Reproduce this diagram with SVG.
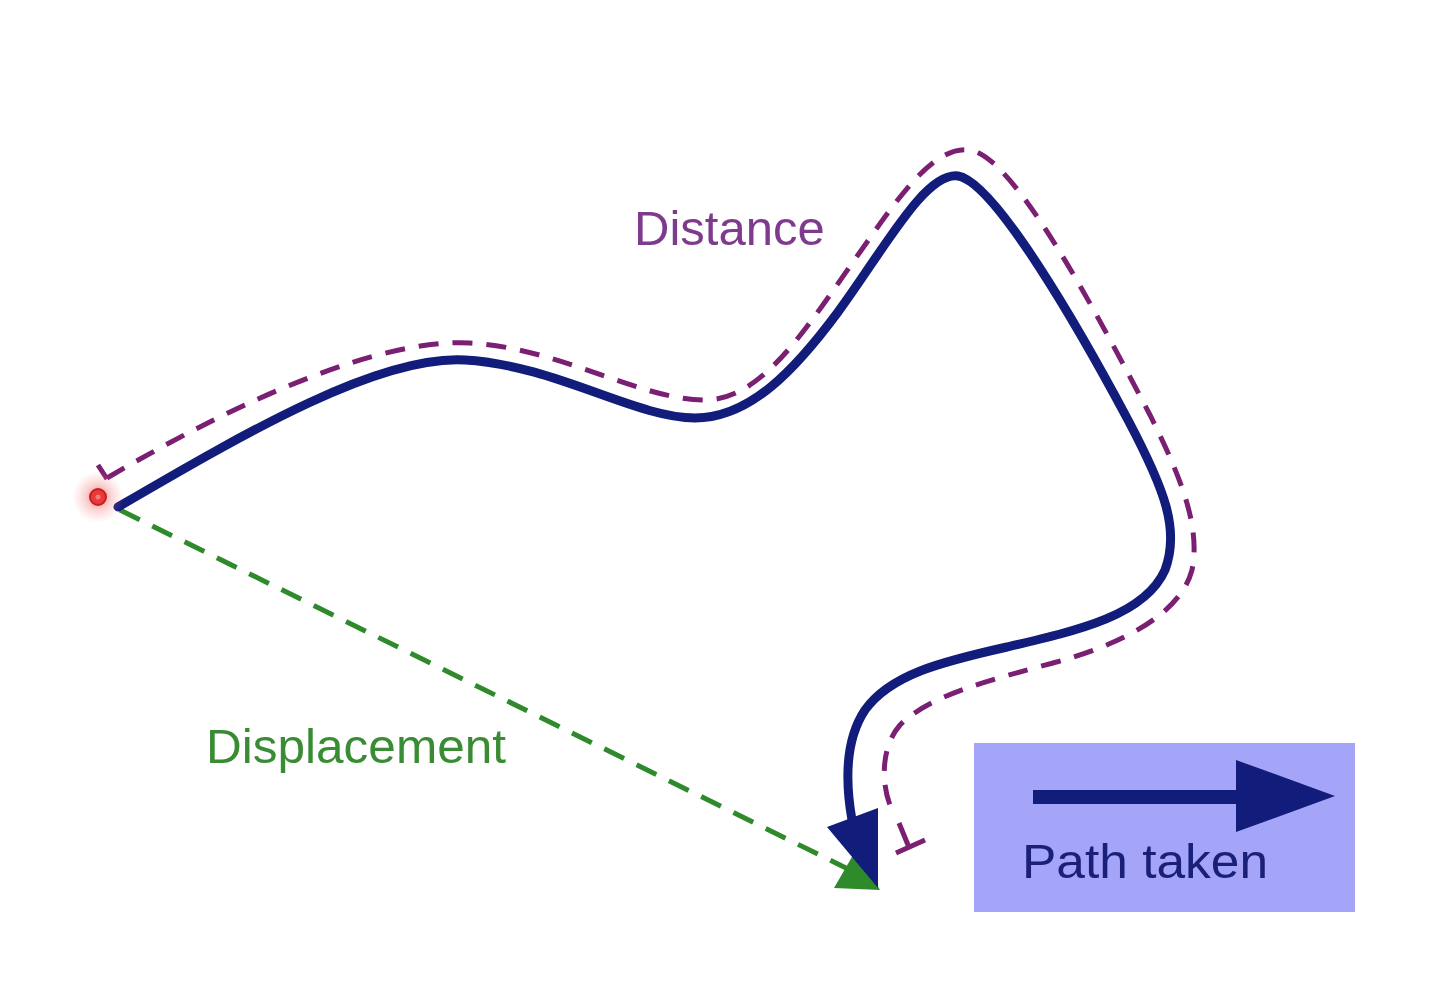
<svg xmlns="http://www.w3.org/2000/svg" width="1440" height="989" viewBox="0 0 1440 989">
<defs>
<style>
.path{fill:none;stroke:#121c7a;stroke-width:9;stroke-linecap:round;stroke-linejoin:round}
.dist{fill:none;stroke:#7a1f72;stroke-width:5;stroke-dasharray:20 14}
.tick{fill:none;stroke:#7a1f72;stroke-width:5}
.disp{fill:none;stroke:#2f8a2c;stroke-width:5;stroke-dasharray:22 14}
.lbl{font-family:"Liberation Sans",Arial,sans-serif;font-size:49px}
</style>
<radialGradient id="glow" cx="0.5" cy="0.5" r="0.5">
<stop offset="0" stop-color="#f04848" stop-opacity="0.7"/>
<stop offset="0.5" stop-color="#f46a6a" stop-opacity="0.3"/>
<stop offset="1" stop-color="#f88" stop-opacity="0"/>
</radialGradient>
</defs>
<rect width="1440" height="989" fill="#ffffff"/>
<g id="connectors">
<path id="displacement-line" class="disp" d="M120,510 L850,870"/>
<polygon id="displacement-head" points="834,888 880,890 856,850" fill="#2f8a2c"/>
<path id="distance-line" class="dist" d="M107,478 C240,400 380,338 470,343 C560,348 640,400 705,400 C765,400 810,322 865,245 C900,195 935,145 970,150 C1015,156 1100,320 1150,415 C1185,485 1200,530 1192,570 C1180,615 1120,645 1053,663 C990,680 930,695 900,725 C880,748 882,785 890,805"/>
<path class="tick" d="M98,465 L107,479"/>
<path class="tick" d="M899,823 L908,845 M896,853 L925,840"/>
<path id="path-taken" class="path" d="M118,507 C250,430 380,355 465,360 C555,365 635,418 695,418 C750,418 795,370 838,312 C885,248 925,172 958,176 C995,182 1080,330 1128,420 C1165,490 1180,530 1165,570 C1145,615 1080,630 1007,647 C940,662 890,675 865,710 C845,740 845,780 852,820"/>
<polygon id="path-head" points="827,827 878,808 878,888" fill="#121c7a"/>
</g>
<g id="start">
<circle cx="98" cy="497" r="26" fill="url(#glow)"/>
<circle cx="98" cy="497" r="8" fill="#e83a3a" stroke="#c42020" stroke-width="2"/>
<circle cx="98" cy="497" r="2.5" fill="#f47a7a"/>
</g>
<g id="distance-label">
<text class="lbl" x="634" y="245" fill="#7e3a8c">Distance</text>
</g>
<g id="displacement-label">
<text class="lbl" x="206" y="763" fill="#3a8c34" textLength="300" lengthAdjust="spacingAndGlyphs">Displacement</text>
</g>
<g id="legend">
<rect x="974" y="743" width="381" height="169" fill="#a4a4f8"/>
<path d="M1033,797 L1245,797" stroke="#121c7a" stroke-width="14"/>
<polygon points="1236,760 1335,796 1236,832" fill="#121c7a"/>
<text class="lbl" x="1022" y="878" fill="#1a1f78" font-size="50" textLength="246" lengthAdjust="spacingAndGlyphs">Path taken</text>
</g>
</svg>
